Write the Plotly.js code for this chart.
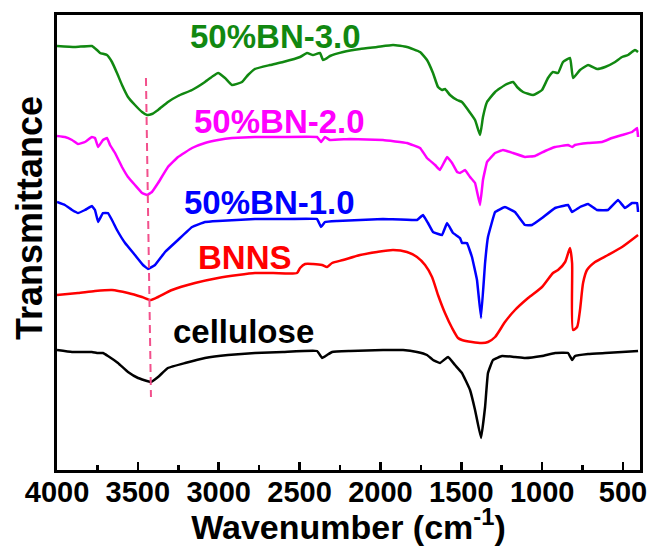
<!DOCTYPE html>
<html>
<head>
<meta charset="utf-8">
<script src="https://cdn.plot.ly/plotly-3.0.1.min.js"></script>
<style>html,body{margin:0;padding:0;background:#fff;}#chart{width:661px;height:546px;}</style>
</head>
<body>
<div id="chart"></div>
<script>
// Wavenumber (cm-1) and transmittance (a.u., curves offset vertically as in the figure)
const bn30X = [4000,3889,3784,3753,3734,3691,3660,3629,3598,3561,3518,3474,3443,3413,3375,3314,3252,3165,3085,3035,3004,2961,2918,2856,2819,2776,2683,2602,2497,2454,2417,2374,2355,2330,2312,2231,2126,2021,1922,1836,1755,1712,1675,1644,1619,1601,1570,1526,1496,1458,1415,1384,1366,1341,1291,1230,1180,1155,1118,1056,1001,964,933,902,871,828,809,766,716,661,611,549,506,469,426,407];
const bn30Y = [424,423,424,420,417,415,408,397,385,373,365,358,355,356,360,368,374,380,388,394,397,392,385,388,395,401,405,408,413,417,415,417,410,412,414,418,421,423,425,423,418,410,397,383,380,381,375,370,368,360,350,335,353,368,378,385,388,383,378,375,380,392,398,397,408,412,392,400,405,401,403,408,413,415,420,418];

const bn20X = [4000,3951,3907,3870,3827,3784,3765,3746,3716,3691,3672,3641,3598,3561,3518,3474,3443,3413,3375,3314,3252,3165,3085,3004,2918,2776,2602,2392,2367,2343,2312,2188,1984,1836,1755,1712,1662,1632,1588,1557,1526,1508,1477,1446,1415,1384,1366,1341,1291,1242,1180,1106,1044,982,920,840,815,797,716,630,568,506,444,413,407];
const bn20Y = [334,333,330,326,328,333,332,323,330,332,325,317,303,293,285,277,275,278,287,303,313,322,327,330,332,333,333,333,328,333,330,331,330,327,322,312,305,300,313,307,298,297,300,293,287,265,290,308,317,320,317,313,314,319,323,325,323,325,327,328,332,335,338,342,333];

const bn10X = [4000,3951,3907,3870,3827,3784,3765,3746,3716,3685,3660,3629,3579,3518,3468,3437,3394,3332,3252,3165,3085,3004,2776,2602,2392,2367,2343,2268,1984,1774,1737,1706,1675,1619,1588,1551,1508,1496,1465,1434,1403,1378,1353,1335,1291,1230,1168,1106,1063,1001,920,840,815,766,716,661,593,531,488,444,413,407];
const bn10Y = [268,265,260,257,260,264,260,248,257,257,250,240,227,215,205,201,205,218,230,243,248,249,251,251,251,243,248,249,251,250,255,247,238,235,247,237,232,227,227,213,190,152,207,233,258,263,258,245,245,252,262,265,258,263,266,260,260,270,262,267,267,258];

const bnnsX = [4000,3870,3765,3660,3561,3474,3419,3375,3289,3147,3004,2881,2776,2664,2516,2497,2466,2417,2361,2330,2299,2231,2126,2021,1922,1836,1774,1724,1681,1644,1601,1557,1520,1496,1434,1372,1335,1291,1230,1168,1087,1001,933,902,858,828,815,809,784,766,747,723,673,593,506,407];
const bnnsY = [175,177,179,180,177,173,170,173,180,187,192,195,197,197,197,202,206,206,205,203,207,210,215,218,220,218,213,205,193,175,157,142,132,130,128,127,128,133,148,160,172,183,197,200,208,222,207,140,143,160,187,200,208,215,223,235];

const celluloseX = [4000,3907,3784,3753,3716,3685,3623,3561,3499,3419,3375,3314,3208,3085,2943,2776,2602,2392,2361,2330,2299,2188,1984,1860,1774,1712,1675,1632,1582,1539,1496,1446,1415,1378,1353,1335,1304,1248,1168,1106,1001,920,840,815,797,716,611,506,407];
const celluloseY = [120,118,118,117,117,114,107,98,92,88,93,102,107,112,115,117,118,119,112,115,118,119,120,120,118,115,110,107,113,105,97,80,60,32,63,97,110,114,113,112,114,117,117,110,114,116,117,118,119];

// guide line through the O-H band
const guideX = [3450, 3419];
const guideY = [392, 73];

const seriesNames = ['cellulose','BNNS','50%BN-1.0','50%BN-2.0','50%BN-3.0'];
const seriesColors = ['#000000','#ff0000','#0000ff','#ff00ff','#118811'];
const seriesSmooth = [0.3, 0.6, 0.2, 0.2, 0.4];
const xs = [celluloseX, bnnsX, bn10X, bn20X, bn30X];
const ys = [celluloseY, bnnsY, bn10Y, bn20Y, bn30Y];

const traces = xs.map((x, i) => ({
  x: x, y: ys[i], type: 'scatter', mode: 'lines', name: seriesNames[i],
  line: {color: seriesColors[i], width: 2.5, shape: 'spline', smoothing: seriesSmooth[i]},
  hoverinfo: 'skip'
}));
traces.push({x: guideX, y: guideY, type: 'scatter', mode: 'lines',
  line: {color: '#f2508c', width: 2, dash: '8px,5px'}, showlegend: false});

// label positions (paper coords)
const labelPos = [[0.320,0.305],[0.322,0.466],[0.365,0.589],[0.382,0.767],[0.374,0.952]];
const annotations = seriesNames.map((n, i) => ({
  text: n, xref: 'paper', yref: 'paper', x: labelPos[i][0], y: labelPos[i][1],
  xanchor: 'center', yanchor: 'middle', showarrow: false,
  font: {family: 'Arial, Liberation Sans, sans-serif', size: 33, weight: 'bold', color: seriesColors[i]}
}));
annotations.push({
  text: 'Transmittance', xref: 'paper', yref: 'paper', x: -0.046, y: 0.554,
  xanchor: 'center', yanchor: 'middle', textangle: -90, showarrow: false,
  font: {family: 'Arial, Liberation Sans, sans-serif', size: 36, weight: 'bold', color: '#000'}
});

const layout = {
  width: 661, height: 546,
  margin: {l: 57, r: 21, t: 15, b: 76},
  paper_bgcolor: '#fff', plot_bgcolor: '#fff',
  showlegend: false,
  xaxis: {
    range: [4000, 395], tickmode: 'linear', tick0: 500, dtick: 500,
    ticks: 'inside', ticklen: 8, tickwidth: 2.5, tickcolor: '#000',
    minor: {ticks: 'inside', ticklen: 5, tickwidth: 2.5, dtick: 250, tick0: 500, tickcolor: '#000'},
    showline: true, linewidth: 3, linecolor: '#000', mirror: true,
    showgrid: false, zeroline: false, ticklabelstandoff: -6,
    tickfont: {family: 'Arial, Liberation Sans, sans-serif', size: 29, weight: 'bold', color: '#000'},
    title: {text: 'Wavenumber (cm<sup>-1</sup>)', standoff: 10,
      font: {family: 'Arial, Liberation Sans, sans-serif', size: 34, weight: 'bold', color: '#000'}}
  },
  yaxis: {
    range: [0, 455], showticklabels: false, ticks: '',
    showline: true, linewidth: 3, linecolor: '#000', mirror: true,
    showgrid: false, zeroline: false
  },
  annotations: annotations
};

Plotly.newPlot('chart', traces, layout, {staticPlot: true});
</script>
</body>
</html>
